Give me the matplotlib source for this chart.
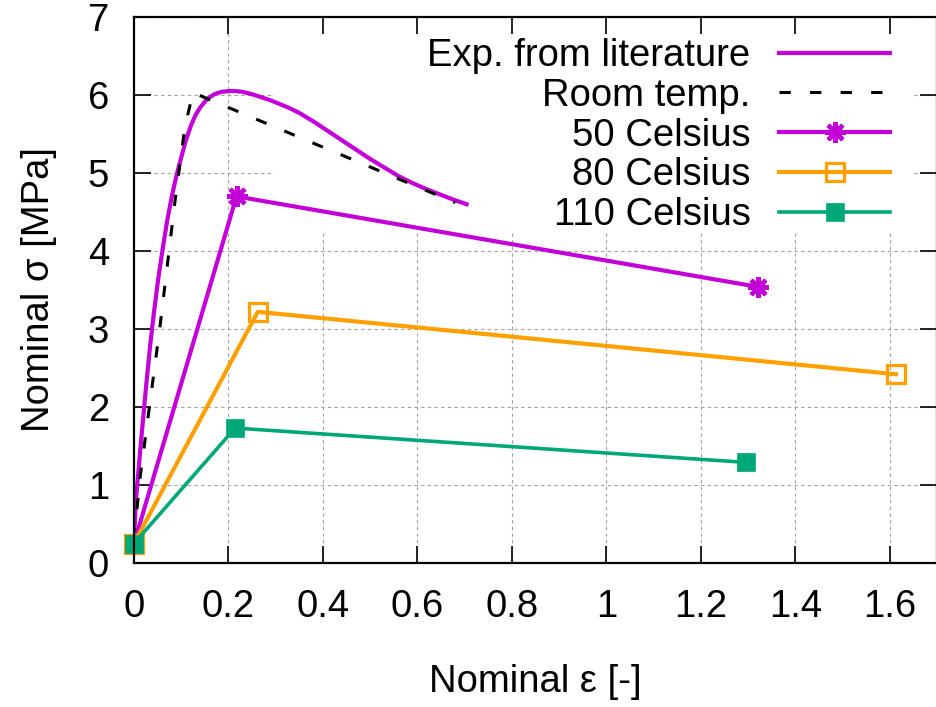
import numpy as np
import matplotlib.pyplot as plt
from matplotlib.patches import Rectangle

plt.rcParams['font.family'] = ['Liberation Sans', 'DejaVu Sans']

# %% data
lit_strain = [0.0, 0.004, 0.009, 0.014, 0.02, 0.027, 0.034, 0.042, 0.051, 0.06,
              0.07, 0.08, 0.09, 0.1, 0.11, 0.12, 0.13, 0.14, 0.155, 0.17,
              0.185, 0.2, 0.215, 0.23, 0.25, 0.27, 0.29, 0.31, 0.33, 0.35,
              0.38, 0.41, 0.44, 0.47, 0.5, 0.53, 0.56, 0.59, 0.62, 0.65,
              0.68, 0.704]
lit_stress = [0.3, 0.8, 1.15, 1.5, 1.9, 2.35, 2.78, 3.2, 3.63, 4.0,
              4.38, 4.7, 4.97, 5.2, 5.42, 5.6, 5.74, 5.84, 5.95, 6.01,
              6.04, 6.05, 6.05, 6.04, 6.01, 5.97, 5.93, 5.88, 5.83, 5.77,
              5.66, 5.54, 5.42, 5.30, 5.18, 5.07, 4.96, 4.87, 4.79, 4.72,
              4.65, 4.6]

room_strain = [0.0, 0.013, 0.055, 0.087, 0.108, 0.125, 0.68]
room_stress = [0.3, 1.1, 3.03, 4.65, 5.6, 6.03, 4.62]

c50_strain = [0.0, 0.217, 1.321]
c50_stress = [0.25, 4.70, 3.54]
c80_strain = [0.0, 0.262, 1.613]
c80_stress = [0.25, 3.22, 2.42]
c110_strain = [0.0, 0.214, 1.296]
c110_stress = [0.25, 1.73, 1.29]

xticks = [0, 0.2, 0.4, 0.6, 0.8, 1, 1.2, 1.4, 1.6]
xtick_labels = ['0', '0.2', '0.4', '0.6', '0.8', '1', '1.2', '1.4', '1.6']
yticks = [0, 1, 2, 3, 4, 5, 6, 7]

MAGENTA = '#c400d8'
ORANGE = '#ffa000'
GREEN = '#00a878'
FS = 27.5

# %% figure
W, H = 936, 707
fig = plt.figure(figsize=(W / 100, H / 100), dpi=100)
ax = fig.add_axes([134 / W, 144 / H, 803 / W, 546 / H])

# grid drawn by hand so the key box can hide it while ticks stay on top
ax.hlines(yticks[1:], 0, 1.7, colors='#a0a0a0', lw=0.8,
          linestyles=(0, (3, 3)), zorder=0.5)
ax.vlines(xticks[1:], 0, 7, colors='#a0a0a0', lw=0.8,
          linestyles=(0, (3, 3)), zorder=0.5)
ax.add_patch(Rectangle((0.1756, 0.606), 0.794, 0.394, transform=ax.transAxes,
                       facecolor='white', edgecolor='none', zorder=1))

ax.plot(lit_strain, lit_stress, color=MAGENTA, lw=3, label='Exp. from literature',
        zorder=2)
ax.plot(room_strain, room_stress, color='black', lw=2.2, ls=(0, (3.7, 6.3)),
        label='Room temp.', zorder=2)
ax.plot(c50_strain, c50_stress, color=MAGENTA, lw=3, marker=(8, 2, 0), ms=15,
        mew=3, label='50 Celsius', clip_on=False, zorder=3)
ax.plot(c80_strain, c80_stress, color=ORANGE, lw=3, marker='s', ms=12.5,
        mfc='none', mew=2.3, label='80 Celsius', clip_on=False, zorder=3)
ax.plot(c110_strain, c110_stress, color=GREEN, lw=2.6, marker='s', ms=12.5,
        mew=0.5, label='110 Celsius', clip_on=False, zorder=3)

ax.set_xlim(0, 1.7)
ax.set_ylim(0, 7)
ax.set_xticks(xticks)
ax.set_xticklabels(xtick_labels)
ax.set_yticks(yticks)
ax.tick_params(direction='in', length=12, width=1.2, top=True, right=True,
               labelsize=FS)
ax.tick_params(axis='x', pad=19)
ax.tick_params(axis='y', pad=18)
for sp in ax.spines.values():
    sp.set_linewidth(1.6)
    sp.set_zorder(4)

ax.set_xlabel('Nominal ε [-]', fontsize=FS, labelpad=28)
ax.set_ylabel('Nominal σ [MPa]', fontsize=FS, labelpad=22)

leg = ax.legend(loc='upper right', bbox_to_anchor=(890 / W, (H - 38) / H),
                bbox_transform=fig.transFigure, frameon=False, fontsize=FS,
                markerfirst=False, handlelength=2.9, handletextpad=0.75,
                labelspacing=0.1, borderpad=0, borderaxespad=0)
for t in leg.get_texts():
    t.set_ha('right')
leg._legend_box.align = 'right'
leg.set_zorder(5)

fig.savefig('out.png', dpi=100)
